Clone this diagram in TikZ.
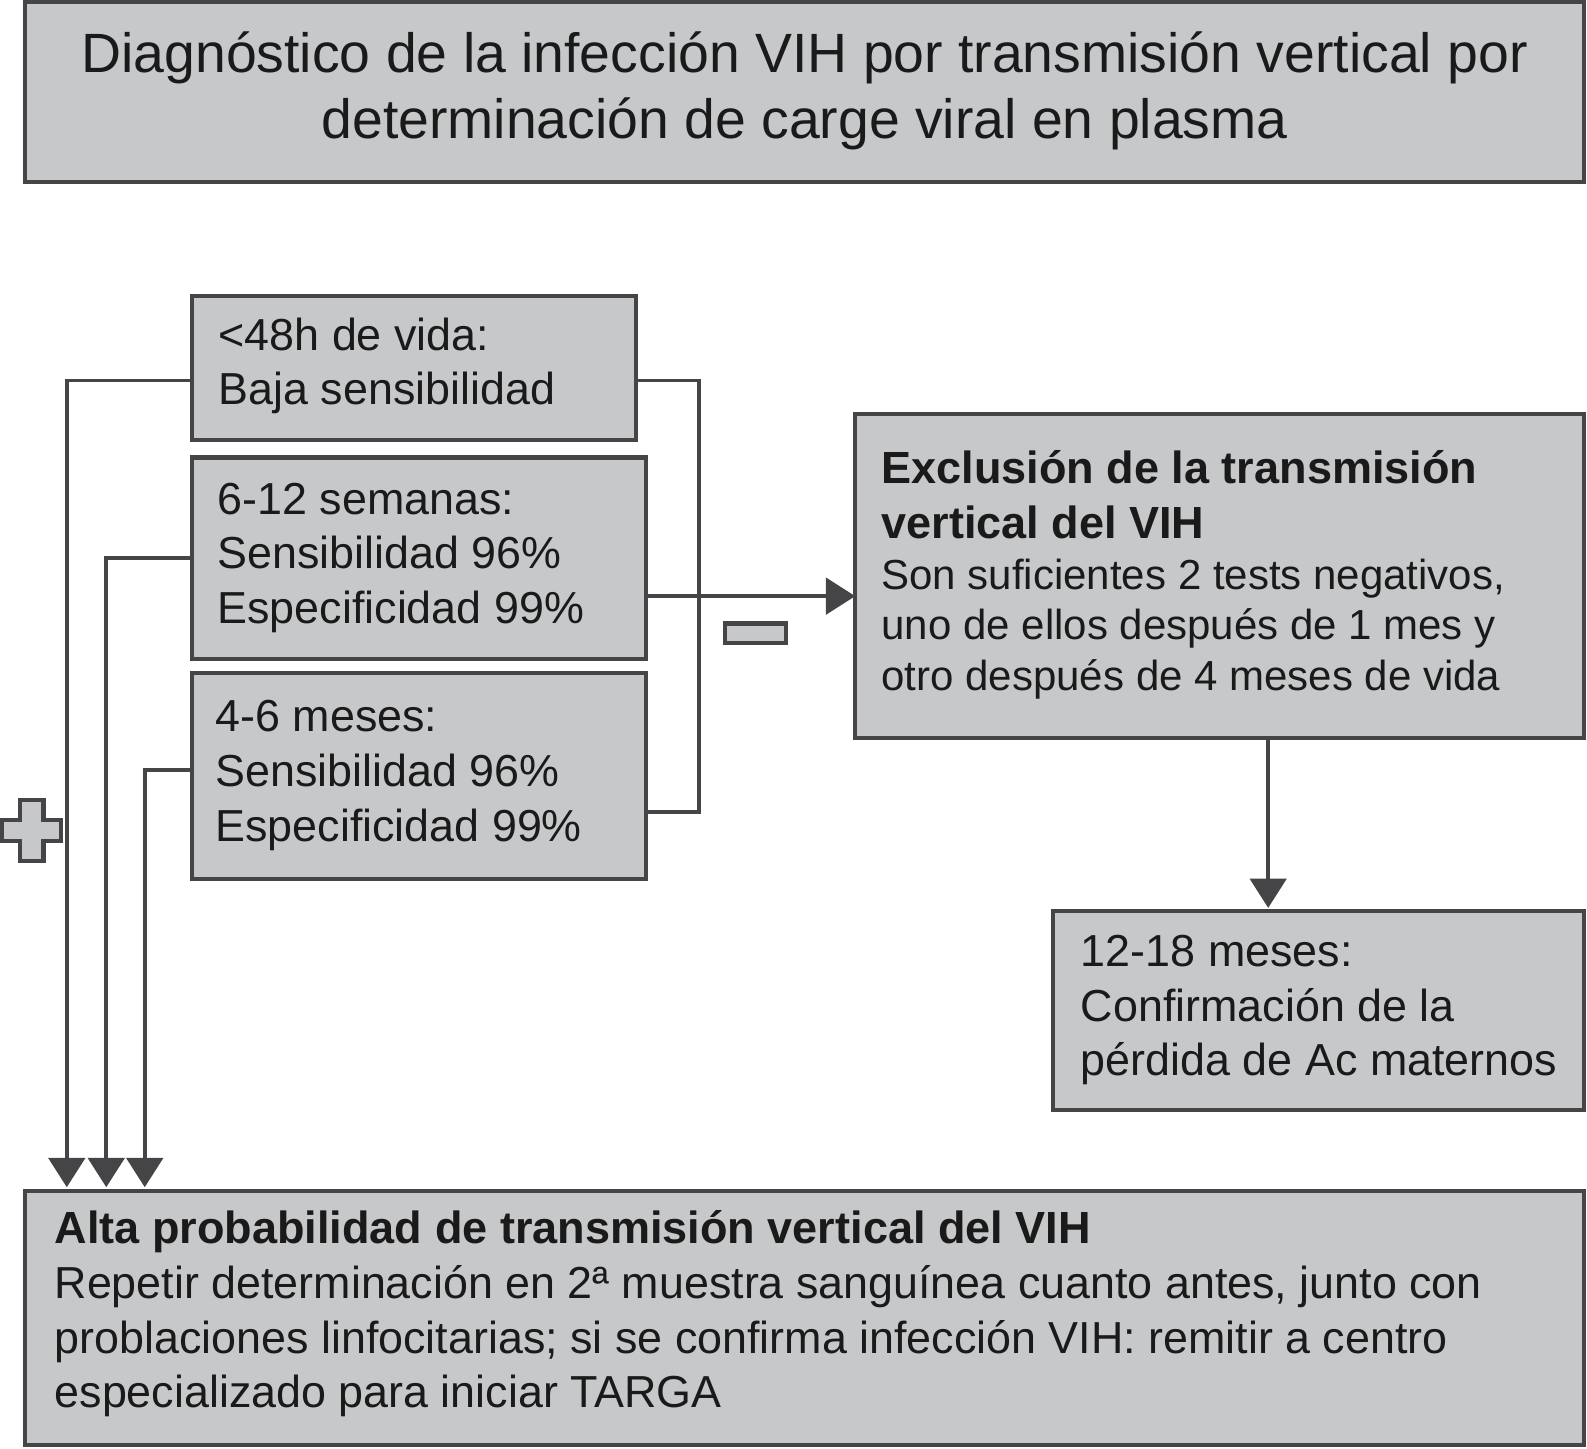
\documentclass[tikz,border=0pt]{standalone}
\usepackage{fontspec}
\setmainfont{Liberation Sans}
\usetikzlibrary{arrows.meta}
\definecolor{boxfill}{HTML}{C6C8CA}
\definecolor{edge}{HTML}{454547}
\definecolor{ink}{HTML}{1A1A1A}
\begin{document}
\begin{tikzpicture}[x=0.5pt,y=-0.5pt,
 box/.style={draw=edge,fill=boxfill,line width=2pt,inner sep=0,outer sep=0,anchor=north west},
 txt/.style={inner sep=0,outer sep=0,anchor=base west,align=left,text=ink,font=\fontsize{22.15pt}{27pt}\selectfont},
 boldtxt/.style={txt,font=\fontsize{22.25pt}{27pt}\selectfont\bfseries},
 conn/.style={draw=edge,line width=1.9pt},
 arr/.style={conn,-{Triangle[length=14.5pt,width=18pt]}}]
\useasboundingbox (0,0) rectangle (1568,1431);

% boxes
\node[box,minimum width=770pt,minimum height=89pt] (title) at (25,2) {};
\node[box,minimum width=219pt,minimum height=71.5pt] (b1) at (190,292) {};
\node[box,minimum width=224pt,minimum height=99.5pt] (b2) at (190,452) {};
\node[box,minimum width=224pt,minimum height=101.5pt] (b3) at (190,665) {};
\node[box,minimum width=360pt,minimum height=160pt] (ex) at (845,409) {};
\node[box,minimum width=262.5pt,minimum height=98.5pt] (cf) at (1040,900) {};
\node[box,minimum width=770pt,minimum height=125.5pt] (bot) at (25,1177) {};

% texts (anchor = baseline of last line)
\node[txt,anchor=base,align=center,font=\fontsize{27.35pt}{32.5pt}\selectfont] (ttxt) at (795,136.6)
  {Diagnóstico de la infección VIH por transmisión vertical por\\determinación de carge viral en plasma};
\node[txt] (b1txt) at (216,400) {<48h de vida:\\Baja sensibilidad};
\node[txt] (b2txt) at (215,616) {6-12 semanas:\\Sensibilidad 96\%\\Especificidad 99\%};
\node[txt] (b3txt) at (213,831) {4-6 meses:\\Sensibilidad 96\%\\Especificidad 99\%};
\node[boldtxt] (exhead) at (871,532) {Exclusión de la transmisión\\vertical del VIH};
\node[txt,font=\fontsize{20.75pt}{25pt}\selectfont] (exbody) at (871,682)
  {Son suficientes 2 tests negativos,\\uno de ellos después de 1 mes y\\otro después de 4 meses de vida};
\node[txt] (cftxt) at (1068,1063) {12-18 meses:\\Confirmación de la\\pérdida de Ac maternos};
\node[boldtxt] (bothead) at (54,1229) {Alta probabilidad de transmisión vertical del VIH};
\node[txt] (botbody) at (54,1391)
  {Repetir determinación en 2ª muestra sanguínea cuanto antes, junto con\\problaciones linfocitarias; si se confirma infección VIH: remitir a centro\\especializado para iniciar TARGA};

% connectors
\draw[arr,shorten >=2pt] (b1.west |- 0,376) -| (bot.north -| 66,0);
\draw[arr,shorten >=2pt] (b2.west |- 0,551) -| (bot.north -| 105,0);
\draw[arr,shorten >=2pt] (b3.west |- 0,761) -| (bot.north -| 143,0);
\coordinate (rb1) at (691,376);
\coordinate (rb2) at (691,802);
\draw[conn] (b1.east |- rb1) -- (rb1) -- (rb2) -- (b3.east |- rb2);
\draw[arr] (b2.east |- 0,589) -- (ex.west |- 0,589);
\draw[arr,shorten >=1.5pt] (ex.south -| 1253,0) -- (cf.north -| 1253,0);

% signs
\draw[conn,line width=2pt,fill=boxfill] (20,790) -- (43,790) -- (43,810) -- (60,810) -- (60,831) -- (43,831)
  -- (43,851) -- (20,851) -- (20,831) -- (2,831) -- (2,810) -- (20,810) -- cycle;
\draw[conn,line width=2pt,fill=boxfill] (716,616) rectangle (777,635);
\end{tikzpicture}
\end{document}
